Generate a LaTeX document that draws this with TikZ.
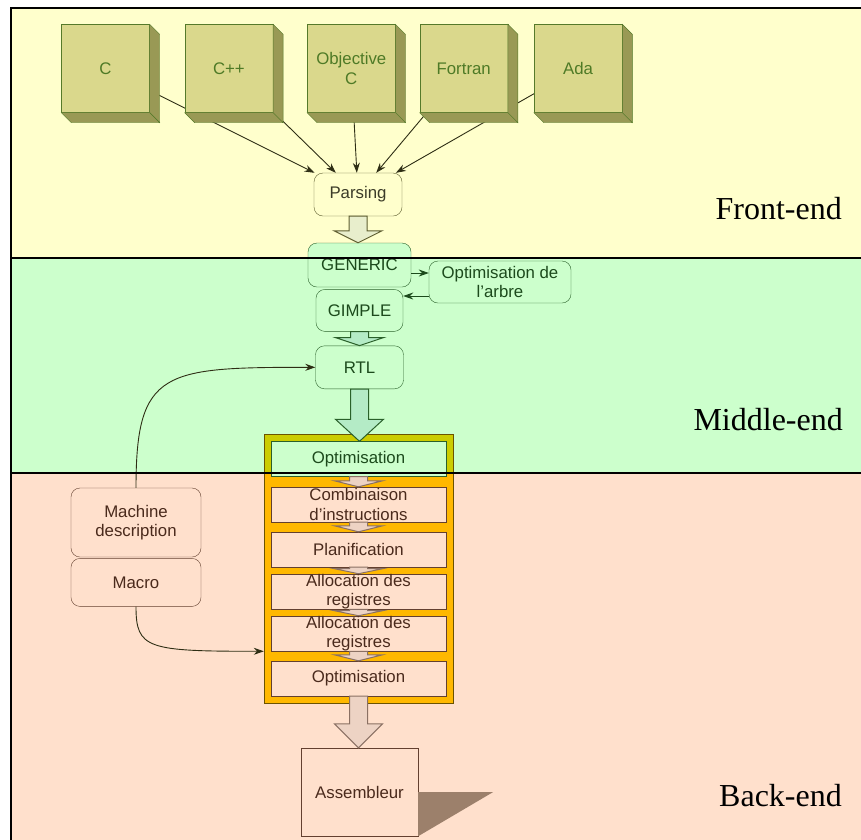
\documentclass[tikz,border=0pt]{standalone}
\usepackage{fontspec}
\setmainfont{Liberation Serif}
\setsansfont{Liberation Sans}
\usetikzlibrary{calc,positioning,backgrounds,arrows.meta}

\definecolor{frontbg}{HTML}{FFFFCC}
\definecolor{middlebg}{HTML}{CCFFCC}
\definecolor{backbg}{HTML}{FFE0CC}
\definecolor{cubeface}{HTML}{DAD88C}
\definecolor{cubeside}{HTML}{999955}
\definecolor{cubeline}{HTML}{557A2A}
\definecolor{cubetext}{HTML}{4E7A26}
\definecolor{frontline}{HTML}{5E5E30}
\definecolor{fronttext}{HTML}{3C3C28}
\definecolor{frontarrow}{HTML}{E8EECC}
\definecolor{middleline}{HTML}{2A602A}
\definecolor{middletext}{HTML}{1C4A1C}
\definecolor{middlearrow}{HTML}{B4EBC6}
\definecolor{backline}{HTML}{63402F}
\definecolor{backtext}{HTML}{4A2A1C}
\definecolor{backarrow}{HTML}{EDD3C4}
\definecolor{stackfill}{HTML}{FFB800}
\definecolor{stacktop}{HTML}{CCCC00}
\definecolor{stackline}{HTML}{6B5300}
\definecolor{shadowfill}{HTML}{9C806B}
\definecolor{wire}{HTML}{2E2E14}

\pgfdeclarelayer{wires}
\pgfsetlayers{background,wires,main}

\newcommand{\stagefont}{\sffamily\fontsize{16.8}{19.5}\selectfont}
\newcommand{\bandlabelfont}{\rmfamily\fontsize{32}{36}\selectfont}
% side and bottom faces of a language block
\newcommand{\cubedepth}[1]{
  \filldraw[fill=cubeside,draw=cubeline]
    (#1.north east) -- ++(10,10) -- ([shift={(10,10)}]#1.south east) -- (#1.south east) -- cycle;
  \filldraw[fill=cubeside,draw=cubeline]
    (#1.south west) -- ++(10,10) -- ([shift={(10,10)}]#1.south east) -- (#1.south east) -- cycle;
}

\tikzset{
  flow/.style={-{Stealth[length=10pt,width=7pt]},draw=wire,line width=0.9pt},
  cube/.style={draw=cubeline,fill=cubeface,text=cubetext,minimum size=88pt,
    inner sep=0pt,align=center,font=\stagefont},
  frontbox/.style={draw=frontline,fill=frontbg,text=fronttext,rounded corners=9pt,
    inner sep=0pt,align=center,font=\stagefont},
  middlebox/.style={draw=middleline,fill=middlebg,text=middletext,rounded corners=9pt,
    inner sep=0pt,align=center,font=\stagefont},
  backbox/.style={draw=backline,fill=backbg,text=backtext,
    inner sep=0pt,align=center,font=\stagefont},
  passbox/.style={backbox,minimum width=175pt,minimum height=35pt},
  roundback/.style={backbox,rounded corners=9pt,minimum width=130pt},
  blockarrow/.style args={(#1) to (#2) head #3}{
    insert path={
      let \p1=(#1), \p2=(#2) in
      (\x1-9pt,\y1) -- (\x1-9pt,\y2+#3) -- (\x1-24pt,\y2+#3) -- (\x1,\y2)
      -- (\x1+24pt,\y2+#3) -- (\x1+9pt,\y2+#3) -- (\x1+9pt,\y1) -- cycle
    }
  },
  frontpipe/.style={draw=frontline,fill=frontarrow,line width=1pt},
  middlepipe/.style={draw=middleline,fill=middlearrow,line width=1pt},
  backpipe/.style={draw=backline!75,fill=backarrow,line width=1pt},
  band/.style={draw=black,line width=2.2pt},
  bandlabel/.style={anchor=base east,inner sep=0pt,font=\bandlabelfont}
}

\begin{document}
\begin{tikzpicture}[x=1pt,y=-1pt,line width=1.2pt]
  \useasboundingbox (0,0) rectangle (861,839);

  \coordinate (topleft) at (11,8);
  \coordinate (cut1) at (11,258);
  \coordinate (cut2) at (11,473);
  \coordinate (botright) at (875,850);

  \begin{pgfonlayer}{background}
    \fill[frontbg] (topleft) rectangle (botright |- cut1);
    \fill[middlebg] (cut1) rectangle (botright |- cut2);
    \fill[backbg] (cut2) rectangle (botright);
  \end{pgfonlayer}

  % front-end
  \node[cube] (c) at (105.5,68.5) {C};
  \node[cube,right=35pt of c] (cpp) {C++};
  \node[cube,right=34pt of cpp] (objc) {Objective\\C};
  \node[cube,right=24pt of objc] (fortran) {Fortran};
  \node[cube,right=26pt of fortran] (ada) {Ada};
  \cubedepth{c}
  \cubedepth{cpp}
  \cubedepth{objc}
  \cubedepth{fortran}
  \cubedepth{ada}

  \node[frontbox,minimum width=88pt,minimum height=43pt] (parsing) at (358,194.5) {Parsing};

  \begin{pgfonlayer}{wires}
    \foreach \src in {c,cpp,objc,fortran,ada}
      \draw[flow] (\src) -- (parsing);
  \end{pgfonlayer}

  % middle-end
  \node[middlebox,minimum width=103pt,minimum height=44pt] (generic) at (359.5,265) {GENERIC};
  \node[middlebox,minimum width=87pt,minimum height=42pt,below=2pt of generic] (gimple) {GIMPLE};
  \node[middlebox,minimum width=142pt,minimum height=42pt] (optarbre) at (500,282) {Optimisation de\\l’arbre};
  \node[middlebox,minimum width=88pt,minimum height=43pt,below=14pt of gimple] (rtl) {RTL};

  \draw[frontpipe,blockarrow={(parsing.south) to (generic.north) head 12pt}];
  \draw[middlepipe,blockarrow={(gimple.south) to (rtl.north) head 8pt}];

  \coordinate (g1) at ([yshift=-8pt]generic.east);
  \coordinate (o1) at ([yshift=-14pt]optarbre.west);
  \draw[flow,draw=middletext] (g1) -- (g1 -| optarbre.west);
  \draw[flow,draw=middletext] (o1) -- (o1 -| gimple.east);

  % back-end passes
  \node[draw=stackline,fill=stackfill,minimum width=189pt,minimum height=269pt,inner sep=0pt] (stack) at (358.5,568.5) {};
  \fill[stacktop] (stack.north west) rectangle (stack.east |- cut2);
  \draw[stackline] (stack.north west) rectangle (stack.south east);

  \node[passbox,draw=middleline,fill=middlebg,text=middletext] (opt1) at (358.5,459) {Optimisation};
  \node[passbox] (comb) at (358.5,504.5) {Combinaison\\d’instructions};
  \node[passbox] (plan) at (358.5,549.5) {Planification};
  \node[passbox] (alloc1) at (358.5,591.5) {Allocation des\\registres};
  \node[passbox] (alloc2) at (358.5,633.5) {Allocation des\\registres};
  \node[passbox] (opt2) at (358.5,678.5) {Optimisation};

  \draw[middlepipe,blockarrow={(rtl.south) to (opt1.north) head 22pt}];
  \draw[backpipe,blockarrow={(opt1.south) to (comb.north) head 6pt}];
  \draw[backpipe,blockarrow={(comb.south) to (plan.north) head 6pt}];
  \draw[backpipe,blockarrow={(plan.south) to (alloc1.north) head 5pt}];
  \draw[backpipe,blockarrow={(alloc1.south) to (alloc2.north) head 5pt}];
  \draw[backpipe,blockarrow={(alloc2.south) to (opt2.north) head 6pt}];

  \node[roundback,minimum height=69pt] (machine) at (136,522.5) {Machine\\description};
  \node[roundback,minimum height=48pt,below=1pt of machine] (macro) {Macro};

  \node[backbox,minimum width=117pt,minimum height=88pt] (asm) at (359.5,792) {Assembleur};
  \fill[shadowfill] (asm.east) -- ++(75,0) -- (asm.south east) -- cycle;
  \draw[backpipe,blockarrow={(opt2.south) to (asm.north) head 24pt}];

  \draw[flow] (machine.north) to[out=90,in=180,out looseness=1.4,in looseness=1.8] (rtl.west);
  \draw[flow] (macro.south) to[out=-90,in=180,out looseness=0.8,in looseness=2.2] (stack.west |- alloc2.south);

  % stage bands
  \draw[band] (botright |- topleft) -- (topleft) -- (topleft |- botright);
  \draw[band] (cut1) -- (cut1 -| botright);
  \draw[band] (cut2) -- (cut2 -| botright);

  \node[bandlabel] (frontlabel) at (842,219) {Front-end};
  \node[bandlabel] (middlelabel) at (843,430) {Middle-end};
  \node[bandlabel] (backlabel) at (842,806) {Back-end};
\end{tikzpicture}
\end{document}
